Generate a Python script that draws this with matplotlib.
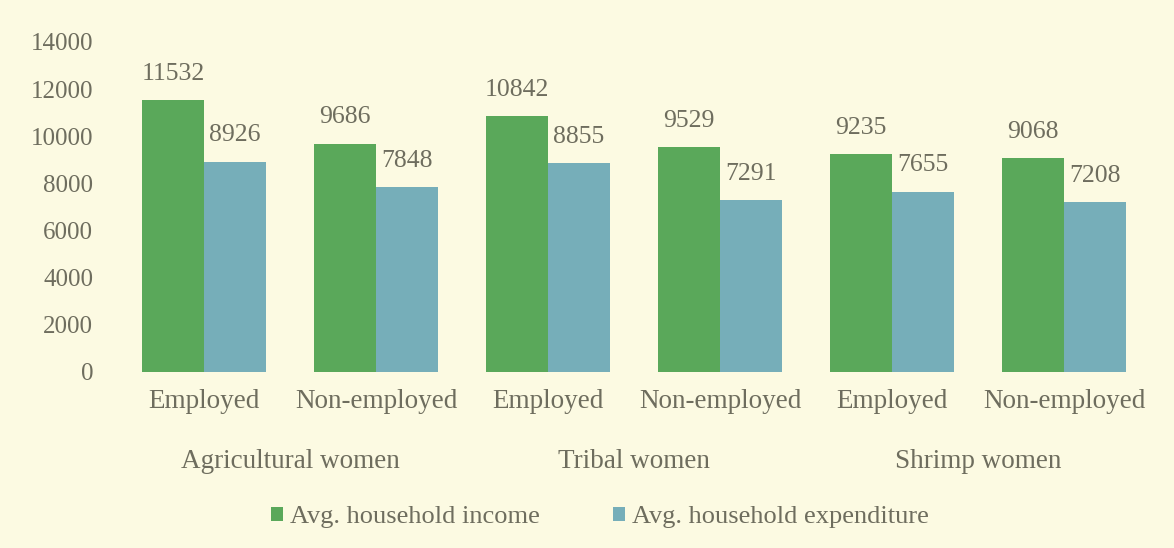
import matplotlib
matplotlib.use("Agg")
from matplotlib import pyplot as plt
import numpy as np

# Average monthly household income and expenditure by group
groups = ['Agricultural women', 'Tribal women', 'Shrimp women']
status = ['Employed', 'Non-employed']
income = [11532, 9686, 10842, 9529, 9235, 9068]
expenditure = [8926, 7848, 8855, 7291, 7655, 7208]
y_ticks = [0, 2000, 4000, 6000, 8000, 10000, 12000, 14000]

bg = '#fcfae2'
green = '#5aa85a'
blue = '#76aeb9'
txt = '#6e6d5e'

plt.rcParams['font.family'] = ['Liberation Serif', 'DejaVu Serif']

fig = plt.figure(figsize=(11.74, 5.48), dpi=100, facecolor=bg)
ax = fig.add_axes([118 / 1174, 1 - 372 / 548, (1150 - 118) / 1174, (372 - 42) / 548])
ax.set_facecolor(bg)

x = np.arange(len(income))
w = 0.36
b1 = ax.bar(x - w / 2, income, w, color=green, label='Avg. household income')
b2 = ax.bar(x + w / 2, expenditure, w, color=blue, label='Avg. household expenditure')

for bars, vals in ((b1, income), (b2, expenditure)):
    for r, v in zip(bars, vals):
        ax.annotate(str(v), (r.get_x() + r.get_width() / 2, v), xytext=(0, 19),
                    textcoords='offset points', ha='center', va='center',
                    fontsize=18.5, color=txt)

ax.set_xlim(-0.5, len(income) - 0.5)
ax.set_ylim(0, 14000)
ax.set_yticks(y_ticks)
ax.set_yticklabels([str(t) for t in y_ticks])
ax.tick_params(axis='y', length=0, pad=18, labelsize=18, labelcolor=txt)
ax.set_xticks(x)
ax.set_xticklabels(status * len(groups))
ax.tick_params(axis='x', length=0, pad=12, labelsize=19.5, labelcolor=txt)
for s in ax.spines.values():
    s.set_visible(False)

# group names under each pair of categories
for i, g in enumerate(groups):
    ax.text(2 * i + 0.5, -(461 - 372) / 330, g, transform=ax.get_xaxis_transform(),
            ha='center', va='center', fontsize=19.5, color=txt)

fig.legend(handles=[b1, b2], loc='center', bbox_to_anchor=(600 / 1174, 1 - 517 / 548), ncol=2,
           frameon=False, fontsize=19, labelcolor=txt, handlelength=0.45, handleheight=0.45,
           handletextpad=0.25, columnspacing=2.8)

fig.savefig('out.png', dpi=100, facecolor=bg)
